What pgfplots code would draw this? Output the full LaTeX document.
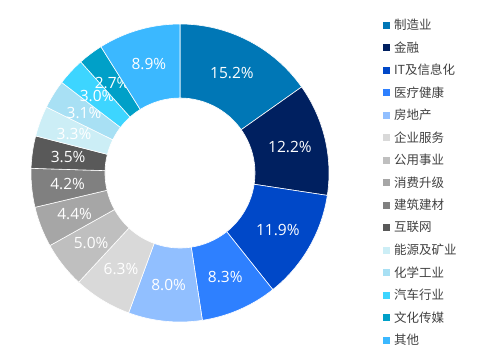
\documentclass[border=0pt]{standalone}
\usepackage{pgfplots}
\usepackage{pgfplotstable}
\pgfplotsset{compat=1.18}
\usepackage{fontspec}
\setmainfont{Open Sans}
\newfontfamily\cjk{Noto Sans CJK SC}
\definecolor{c1}{RGB}{0,119,182}
\definecolor{c2}{RGB}{0,32,96}
\definecolor{c3}{RGB}{0,72,200}
\definecolor{c4}{RGB}{46,128,255}
\definecolor{c5}{RGB}{145,191,255}
\definecolor{c6}{RGB}{217,217,217}
\definecolor{c7}{RGB}{191,191,191}
\definecolor{c8}{RGB}{166,166,166}
\definecolor{c9}{RGB}{128,128,128}
\definecolor{c10}{RGB}{89,89,89}
\definecolor{c11}{RGB}{204,238,246}
\definecolor{c12}{RGB}{168,224,244}
\definecolor{c13}{RGB}{61,213,255}
\definecolor{c14}{RGB}{0,160,200}
\definecolor{c15}{RGB}{59,184,255}
\pgfplotstableread[col sep=comma]{
value,name
15.2,制造业
12.2,金融
11.9,IT及信息化
8.3,医疗健康
8.0,房地产
6.3,企业服务
5.0,公用事业
4.4,消费升级
4.2,建筑建材
3.5,互联网
3.3,能源及矿业
3.1,化学工业
3.0,汽车行业
2.7,文化传媒
8.9,其他
}\shares
\pgfplotsset{legend image code/.code={\fill[#1, draw=none] (0pt,-3.5pt) rectangle (7pt,3.5pt);}}
\begin{document}
\begin{tikzpicture}
\path[use as bounding box] (0,0) rectangle (482pt,360pt);
\begin{axis}[
  at={(0,0)}, anchor=south west,
  scale only axis, width=482pt, height=360pt,
  xmin=0, xmax=482, ymin=0, ymax=360,
  hide axis, clip=false,
  legend style={at={(axis cs:383,346.25)}, anchor=north west, draw=none, fill=none,
    inner sep=0pt, outer sep=0pt, row sep=0pt, column sep=4pt,
    font=\cjk\fontsize{12.5}{13}\selectfont, text=black!75,
    nodes={inner sep=0pt, minimum height=22.5pt, anchor=west}},
  legend cell align=left,
]
\pgfplotsextra{
  \xdef\cum{0}
  \foreach \i in {1,...,15} {
    \pgfmathtruncatemacro\r{\i-1}
    \pgfplotstablegetelem{\r}{value}\of\shares
    \let\v\pgfplotsretval
    \pgfmathsetmacro\a{90-3.6*\cum}
    \pgfmathsetmacro\b{90-3.6*(\cum+\v)}
    \pgfmathsetmacro\m{(\a+\b)/2}
    \pgfmathsetmacro\xo{180+149*cos(\a)}
    \pgfmathsetmacro\yo{187+149*sin(\a)}
    \pgfmathsetmacro\xin{180+75*cos(\b)}
    \pgfmathsetmacro\yin{187+75*sin(\b)}
    \pgfmathsetmacro\xl{180+113*cos(\m)}
    \pgfmathsetmacro\yl{187+113*sin(\m)}
    \filldraw[fill=c\i, draw=white, line width=0.6pt]
      (axis cs:\xo,\yo) arc[start angle=\a, end angle=\b, radius=149pt]
      -- (axis cs:\xin,\yin) arc[start angle=\b, end angle=\a, radius=75pt] -- cycle;
    \node[text=white, font=\fontsize{15.5}{16}\selectfont] at (axis cs:\xl,\yl) {\v\%};
    \pgfmathsetmacro\nc{\cum+\v}
    \xdef\cum{\nc}
  }
}
\addlegendimage{fill=c1}\addlegendentry{制造业}
\addlegendimage{fill=c2}\addlegendentry{金融}
\addlegendimage{fill=c3}\addlegendentry{IT及信息化}
\addlegendimage{fill=c4}\addlegendentry{医疗健康}
\addlegendimage{fill=c5}\addlegendentry{房地产}
\addlegendimage{fill=c6}\addlegendentry{企业服务}
\addlegendimage{fill=c7}\addlegendentry{公用事业}
\addlegendimage{fill=c8}\addlegendentry{消费升级}
\addlegendimage{fill=c9}\addlegendentry{建筑建材}
\addlegendimage{fill=c10}\addlegendentry{互联网}
\addlegendimage{fill=c11}\addlegendentry{能源及矿业}
\addlegendimage{fill=c12}\addlegendentry{化学工业}
\addlegendimage{fill=c13}\addlegendentry{汽车行业}
\addlegendimage{fill=c14}\addlegendentry{文化传媒}
\addlegendimage{fill=c15}\addlegendentry{其他}
\end{axis}
\end{tikzpicture}
\end{document}
